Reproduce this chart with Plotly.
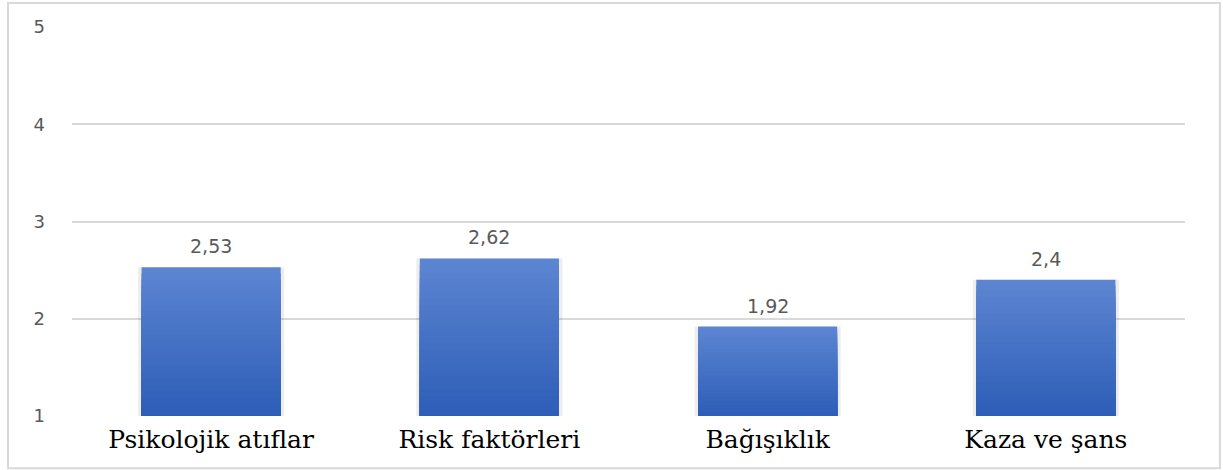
import plotly.graph_objects as go

# Ortalama puanlar (1-5 ölçeği)
categories = ["Psikolojik atıflar", "Risk faktörleri", "Bağışıklık", "Kaza ve şans"]
values = [2.53, 2.62, 1.92, 2.4]
value_labels = ["2,53", "2,62", "1,92", "2,4"]
y_ticks = [1, 2, 3, 4, 5]

AXIS_MIN = 1
TOP_RGB = (92, 133, 209)
BOTTOM_RGB = (46, 94, 184)
STEPS = 24

fig = go.Figure()

# soft shadow behind the bars
fig.add_trace(go.Bar(
    x=categories, y=[v - AXIS_MIN for v in values], base=AXIS_MIN,
    width=0.525, marker=dict(color="rgba(0,0,0,0.07)", line=dict(width=0)),
    hoverinfo="skip", showlegend=False,
))

# vertical gradient: stacked overlays, lighter at the top
for k in range(STEPS):
    f = 1 - k / STEPS
    t = k / (STEPS - 1)
    r = round(TOP_RGB[0] + (BOTTOM_RGB[0] - TOP_RGB[0]) * t)
    g = round(TOP_RGB[1] + (BOTTOM_RGB[1] - TOP_RGB[1]) * t)
    b = round(TOP_RGB[2] + (BOTTOM_RGB[2] - TOP_RGB[2]) * t)
    fig.add_trace(go.Bar(
        x=categories, y=[(v - AXIS_MIN) * f for v in values], base=AXIS_MIN,
        width=0.5, marker=dict(color=f"rgb({r},{g},{b})", line=dict(width=0)),
        hoverinfo="skip", showlegend=False,
    ))

for c, v, lab in zip(categories, values, value_labels):
    fig.add_annotation(
        x=c, y=v, text=lab, showarrow=False, yanchor="bottom", yshift=8,
        font=dict(family="DejaVu Sans", size=19, color="#595959"),
    )

# outer chart border
fig.add_shape(
    type="rect", xref="paper", yref="paper",
    x0=-0.0575, x1=1.0314, y0=-0.134, y1=1.062,
    line=dict(color="#d9d9d9", width=2), fillcolor="rgba(0,0,0,0)", layer="below",
)

fig.update_layout(
    width=1223, height=470,
    margin=dict(l=72, r=38, t=27, b=54),
    barmode="overlay",
    separators=",.",
    paper_bgcolor="white", plot_bgcolor="white",
    showlegend=False,
    xaxis=dict(
        showgrid=False, zeroline=False, showline=False, ticks="",
        ticklabelstandoff=6,
        tickfont=dict(family="DejaVu Serif", size=25, color="black"),
    ),
    yaxis=dict(
        range=[AXIS_MIN, 5], tickvals=y_ticks, showgrid=True,
        gridcolor="#d9d9d9", gridwidth=1.5, zeroline=False, showline=False,
        ticks="", ticklabelstandoff=26,
        tickfont=dict(family="DejaVu Sans", size=18, color="#595959"),
    ),
)

fig.write_html("out.html")
